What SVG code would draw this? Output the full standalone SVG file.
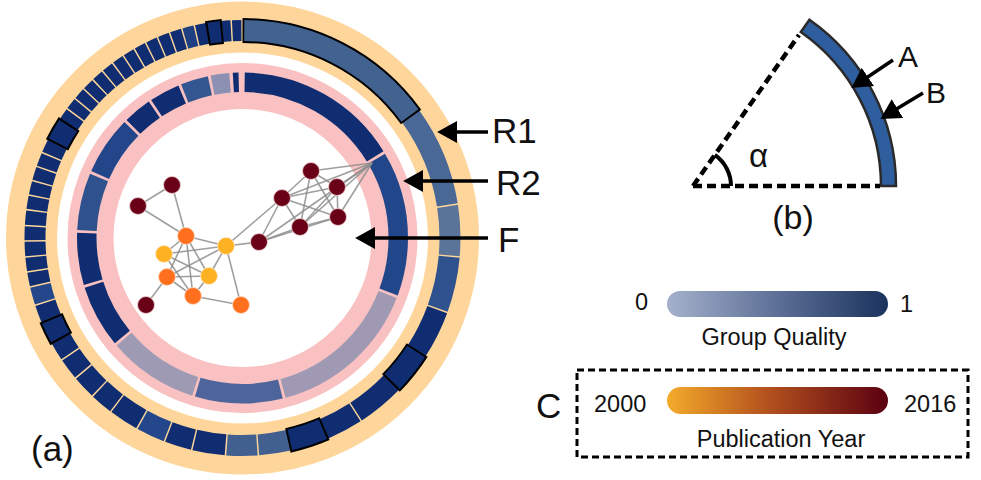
<svg xmlns="http://www.w3.org/2000/svg" width="981" height="480" viewBox="0 0 981 480">
<defs>
<style>
.r1{fill:none;stroke-width:21}
.r2{fill:none;stroke-width:19.5}
.bd{fill:none;stroke:#000;stroke-width:25}
.nv{stroke:#0F2D70}
.e{stroke:#8e8e8e;stroke-width:1.6;stroke-opacity:0.85;fill:none}
.dr{fill:#6A0018;stroke:#f3d6d6;stroke-width:0.8}
.or{fill:#FF6F1E;stroke:#fbe0cc;stroke-width:0.8}
.ye{fill:#FDB224;stroke:#fdebc6;stroke-width:0.8}
.t{font-family:"Liberation Sans",Arial,Helvetica,sans-serif;fill:#111}
.ar{stroke:#000;stroke-width:3.5;fill:none}
.dash{stroke:#000;stroke-width:4.5;stroke-dasharray:9 5;fill:none}
</style>
<marker id="ah" markerUnits="userSpaceOnUse" markerWidth="20" markerHeight="22" viewBox="0 0 19 21" refX="1" refY="10.5" orient="auto">
<path d="M0,0 L19,10.5 L0,21 z" fill="#000"/>
</marker>
<linearGradient id="gq" x1="0" y1="0" x2="1" y2="0">
<stop offset="0" stop-color="#A5B1CC"/>
<stop offset="0.5" stop-color="#5C6F96"/>
<stop offset="1" stop-color="#1A335D"/>
</linearGradient>
<linearGradient id="py" x1="0" y1="0" x2="1" y2="0">
<stop offset="0" stop-color="#F4AB2A"/>
<stop offset="0.45" stop-color="#B4521E"/>
<stop offset="1" stop-color="#5A0011"/>
</linearGradient>
</defs>
<rect width="981" height="480" fill="#fff"/>

<g id="outer-ring">
<circle cx="242.5" cy="238" r="211" fill="none" stroke="#FED69B" stroke-width="51"/>
</g>

<g id="ring-R1" transform="rotate(-90 242.5 238)">
<g fill="none">
<circle class="r1" stroke="#4A6896" cx="242.5" cy="238" r="207.5" pathLength="360" stroke-dasharray="26.6 400" stroke-dashoffset="-54.2"/>
<circle class="r1" stroke="#5A7399" cx="242.5" cy="238" r="207.5" pathLength="360" stroke-dasharray="13.6 400" stroke-dashoffset="-81.2"/>
<circle class="r1" stroke="#2F528F" cx="242.5" cy="238" r="207.5" pathLength="360" stroke-dasharray="14.6 400" stroke-dashoffset="-95.2"/>
<circle class="r1 nv" cx="242.5" cy="238" r="207.5" pathLength="360" stroke-dasharray="12.6 400" stroke-dashoffset="-110.2"/>
<circle class="r1 nv" cx="242.5" cy="238" r="207.5" pathLength="360" stroke-dasharray="12.6 400" stroke-dashoffset="-134.2"/>
<circle class="r1 nv" cx="242.5" cy="238" r="207.5" pathLength="360" stroke-dasharray="9.6 400" stroke-dashoffset="-147.2"/>
<circle class="r1" stroke="#416090" cx="242.5" cy="238" r="207.5" pathLength="360" stroke-dasharray="8.4 400" stroke-dashoffset="-167.2"/>
<circle class="r1" stroke="#416090" cx="242.5" cy="238" r="207.5" pathLength="360" stroke-dasharray="8.3 400" stroke-dashoffset="-176"/>
<circle class="r1 nv" cx="242.5" cy="238" r="207.5" pathLength="360" stroke-dasharray="8.6 400" stroke-dashoffset="-184.7"/>
<circle class="r1 nv" cx="242.5" cy="238" r="207.5" pathLength="360" stroke-dasharray="7.1 400" stroke-dashoffset="-193.7"/>
<circle class="r1" stroke="#23478A" cx="242.5" cy="238" r="207.5" pathLength="360" stroke-dasharray="7.6 400" stroke-dashoffset="-201.2"/>
<circle class="r1 nv" cx="242.5" cy="238" r="207.5" pathLength="360" stroke-dasharray="7.8 400" stroke-dashoffset="-209.2"/>
<circle class="r1 nv" cx="242.5" cy="238" r="207.5" pathLength="360" stroke-dasharray="5.9 400" stroke-dashoffset="-217.4"/>
<circle class="r1 nv" cx="242.5" cy="238" r="207.5" pathLength="360" stroke-dasharray="6.1 400" stroke-dashoffset="-223.7"/>
<circle class="r1 nv" cx="242.5" cy="238" r="207.5" pathLength="360" stroke-dasharray="5.6 400" stroke-dashoffset="-230.2"/>
<circle class="r1 nv" cx="242.5" cy="238" r="207.5" pathLength="360" stroke-dasharray="4.8 400" stroke-dashoffset="-236.2"/>
<circle class="r1 nv" cx="242.5" cy="238" r="207.5" pathLength="360" stroke-dasharray="4.6 400" stroke-dashoffset="-247.2"/>
<circle class="r1" stroke="#23478A" cx="242.5" cy="238" r="207.5" pathLength="360" stroke-dasharray="4.6 400" stroke-dashoffset="-252.2"/>
<circle class="r1 nv" cx="242.5" cy="238" r="207.5" pathLength="360" stroke-dasharray="3.6 400" stroke-dashoffset="-257.2"/>
<circle class="r1 nv" cx="242.5" cy="238" r="207.5" pathLength="360" stroke-dasharray="3.6 400" stroke-dashoffset="-261.2"/>
<circle class="r1 nv" cx="242.5" cy="238" r="207.5" pathLength="360" stroke-dasharray="3.8 400" stroke-dashoffset="-265.2"/>
<circle class="r1 nv" cx="242.5" cy="238" r="207.5" pathLength="360" stroke-dasharray="3.7 400" stroke-dashoffset="-269.4"/>
<circle class="r1 nv" cx="242.5" cy="238" r="207.5" pathLength="360" stroke-dasharray="3.8 400" stroke-dashoffset="-273.5"/>
<circle class="r1 nv" cx="242.5" cy="238" r="207.5" pathLength="360" stroke-dasharray="3.5 400" stroke-dashoffset="-277.7"/>
<circle class="r1 nv" cx="242.5" cy="238" r="207.5" pathLength="360" stroke-dasharray="3.5 400" stroke-dashoffset="-281.6"/>
<circle class="r1 nv" cx="242.5" cy="238" r="207.5" pathLength="360" stroke-dasharray="3.5 400" stroke-dashoffset="-285.5"/>
<circle class="r1 nv" cx="242.5" cy="238" r="207.5" pathLength="360" stroke-dasharray="3.5 400" stroke-dashoffset="-289.4"/>
<circle class="r1 nv" cx="242.5" cy="238" r="207.5" pathLength="360" stroke-dasharray="3.5 400" stroke-dashoffset="-293.3"/>
<circle class="r1 nv" cx="242.5" cy="238" r="207.5" pathLength="360" stroke-dasharray="3 400" stroke-dashoffset="-303.2"/>
<circle class="r1 nv" cx="242.5" cy="238" r="207.5" pathLength="360" stroke-dasharray="3 400" stroke-dashoffset="-306.6"/>
<circle class="r1 nv" cx="242.5" cy="238" r="207.5" pathLength="360" stroke-dasharray="3 400" stroke-dashoffset="-310"/>
<circle class="r1 nv" cx="242.5" cy="238" r="207.5" pathLength="360" stroke-dasharray="3 400" stroke-dashoffset="-313.4"/>
<circle class="r1 nv" cx="242.5" cy="238" r="207.5" pathLength="360" stroke-dasharray="3 400" stroke-dashoffset="-316.8"/>
<circle class="r1 nv" cx="242.5" cy="238" r="207.5" pathLength="360" stroke-dasharray="3 400" stroke-dashoffset="-320.2"/>
<circle class="r1 nv" cx="242.5" cy="238" r="207.5" pathLength="360" stroke-dasharray="3 400" stroke-dashoffset="-323.6"/>
<circle class="r1 nv" cx="242.5" cy="238" r="207.5" pathLength="360" stroke-dasharray="3 400" stroke-dashoffset="-327"/>
<circle class="r1 nv" cx="242.5" cy="238" r="207.5" pathLength="360" stroke-dasharray="3 400" stroke-dashoffset="-330.4"/>
<circle class="r1 nv" cx="242.5" cy="238" r="207.5" pathLength="360" stroke-dasharray="3 400" stroke-dashoffset="-333.8"/>
<circle class="r1 nv" cx="242.5" cy="238" r="207.5" pathLength="360" stroke-dasharray="3 400" stroke-dashoffset="-337.2"/>
<circle class="r1 nv" cx="242.5" cy="238" r="207.5" pathLength="360" stroke-dasharray="3 400" stroke-dashoffset="-340.6"/>
<circle class="r1" stroke="#1E3F82" cx="242.5" cy="238" r="207.5" pathLength="360" stroke-dasharray="3 400" stroke-dashoffset="-344"/>
<circle class="r1 nv" cx="242.5" cy="238" r="207.5" pathLength="360" stroke-dasharray="2.9 400" stroke-dashoffset="-347.4"/>
<circle class="r1 nv" cx="242.5" cy="238" r="207.5" pathLength="360" stroke-dasharray="2.4 400" stroke-dashoffset="-354.4"/>
<circle class="r1 nv" cx="242.5" cy="238" r="207.5" pathLength="360" stroke-dasharray="2.5 400" stroke-dashoffset="-357.2"/>
</g>
<g id="r1-highlight-borders">
<circle class="bd" cx="242.5" cy="238" r="207.5" pathLength="360" stroke-dasharray="54.4 400" stroke-dashoffset="0.05"/>
<circle class="bd" cx="242.5" cy="238" r="207.5" pathLength="360" stroke-dasharray="11.7 400" stroke-dashoffset="-122.65"/>
<circle class="bd" cx="242.5" cy="238" r="207.5" pathLength="360" stroke-dasharray="10.7 400" stroke-dashoffset="-156.65"/>
<circle class="bd" cx="242.5" cy="238" r="207.5" pathLength="360" stroke-dasharray="6.5 400" stroke-dashoffset="-240.85"/>
<circle class="bd" cx="242.5" cy="238" r="207.5" pathLength="360" stroke-dasharray="6.7 400" stroke-dashoffset="-296.65"/>
<circle class="bd" cx="242.5" cy="238" r="207.5" pathLength="360" stroke-dasharray="4.4 400" stroke-dashoffset="-350.15"/>
</g>
<g id="r1-highlight-fills">
<circle class="r1" stroke="#42628F" cx="242.5" cy="238" r="207.5" pathLength="360" stroke-dasharray="53.3 400" stroke-dashoffset="-0.5"/>
<circle class="r1 nv" cx="242.5" cy="238" r="207.5" pathLength="360" stroke-dasharray="10.6 400" stroke-dashoffset="-123.2"/>
<circle class="r1 nv" cx="242.5" cy="238" r="207.5" pathLength="360" stroke-dasharray="9.6 400" stroke-dashoffset="-157.2"/>
<circle class="r1 nv" cx="242.5" cy="238" r="207.5" pathLength="360" stroke-dasharray="5.4 400" stroke-dashoffset="-241.4"/>
<circle class="r1 nv" cx="242.5" cy="238" r="207.5" pathLength="360" stroke-dasharray="5.6 400" stroke-dashoffset="-297.2"/>
<circle class="r1 nv" cx="242.5" cy="238" r="207.5" pathLength="360" stroke-dasharray="3.3 400" stroke-dashoffset="-350.7"/>
</g>
</g>

<g id="pink-ring">
<circle cx="242.5" cy="238" r="152" fill="none" stroke="#F9C1C1" stroke-width="46"/>
</g>

<g id="ring-R2" transform="rotate(-90 242.5 238)">
<circle class="r2 nv" cx="242.5" cy="238" r="155.75" pathLength="360" stroke-dasharray="57.6 400" stroke-dashoffset="-0.8"/>
<circle class="r2" stroke="#22468A" cx="242.5" cy="238" r="155.75" pathLength="360" stroke-dasharray="50.9 400" stroke-dashoffset="-59.4"/>
<circle class="r2" stroke="#9F99B3" cx="242.5" cy="238" r="155.75" pathLength="360" stroke-dasharray="53.6 400" stroke-dashoffset="-111.3"/>
<circle class="r2" stroke="#4D659B" cx="242.5" cy="238" r="155.75" pathLength="360" stroke-dasharray="30.8 400" stroke-dashoffset="-165.9"/>
<circle class="r2" stroke="#9E9AB4" cx="242.5" cy="238" r="155.75" pathLength="360" stroke-dasharray="31.8 400" stroke-dashoffset="-197.7"/>
<circle class="r2 nv" cx="242.5" cy="238" r="155.75" pathLength="360" stroke-dasharray="22 400" stroke-dashoffset="-230.5"/>
<circle class="r2 nv" cx="242.5" cy="238" r="155.75" pathLength="360" stroke-dasharray="18.3 400" stroke-dashoffset="-253.5"/>
<circle class="r2" stroke="#2F518E" cx="242.5" cy="238" r="155.75" pathLength="360" stroke-dasharray="20.1 400" stroke-dashoffset="-272.8"/>
<circle class="r2" stroke="#23468A" cx="242.5" cy="238" r="155.75" pathLength="360" stroke-dasharray="20.6 400" stroke-dashoffset="-293.9"/>
<circle class="r2 nv" cx="242.5" cy="238" r="155.75" pathLength="360" stroke-dasharray="10 400" stroke-dashoffset="-315.5"/>
<circle class="r2 nv" cx="242.5" cy="238" r="155.75" pathLength="360" stroke-dasharray="10.7 400" stroke-dashoffset="-326.5"/>
<circle class="r2" stroke="#345690" cx="242.5" cy="238" r="155.75" pathLength="360" stroke-dasharray="9.7 400" stroke-dashoffset="-338.2"/>
<circle class="r2" stroke="#8C90B2" cx="242.5" cy="238" r="155.75" pathLength="360" stroke-dasharray="6.5 400" stroke-dashoffset="-348.9"/>
<circle class="r2 nv" cx="242.5" cy="238" r="155.75" pathLength="360" stroke-dasharray="2 400" stroke-dashoffset="-356.6"/>
</g>

<g id="panel-b-wedge">
<path d="M881,186 A188,188 0 0 0 800.83,32.0 L809.44,19.71 A203,203 0 0 1 896,186 Z" fill="#2F5E9E" stroke="#2a2a2a" stroke-width="2.5" stroke-linejoin="miter"/>
<path class="dash" d="M693,186 L880,186"/>
<path class="dash" d="M693,186 L799,35"/>
<path d="M731,186 A38,38 0 0 0 714.8,154.9" fill="none" stroke="#000" stroke-width="4"/>
</g>

<g id="connectors">
<g id="network-edges" class="e">
<line x1="172" y1="185" x2="138" y2="206"/>
<line x1="172" y1="185" x2="186" y2="236"/>
<line x1="138" y1="206" x2="186" y2="236"/>
<line x1="146" y1="305" x2="167" y2="277"/>
<line x1="186" y1="236" x2="164" y2="254"/>
<line x1="186" y1="236" x2="167" y2="277"/>
<line x1="186" y1="236" x2="193" y2="296"/>
<line x1="186" y1="236" x2="209" y2="276"/>
<line x1="186" y1="236" x2="226" y2="246"/>
<line x1="164" y1="254" x2="226" y2="246"/>
<line x1="164" y1="254" x2="209" y2="276"/>
<line x1="164" y1="254" x2="193" y2="296"/>
<line x1="167" y1="277" x2="209" y2="276"/>
<line x1="167" y1="277" x2="193" y2="296"/>
<line x1="167" y1="277" x2="226" y2="246"/>
<line x1="209" y1="276" x2="193" y2="296"/>
<line x1="209" y1="276" x2="226" y2="246"/>
<line x1="193" y1="296" x2="241" y2="305"/>
<line x1="226" y1="246" x2="241" y2="305"/>
<line x1="226" y1="246" x2="259" y2="242"/>
<line x1="226" y1="246" x2="282" y2="198"/>
<line x1="259" y1="242" x2="282" y2="198"/>
<line x1="259" y1="242" x2="300" y2="227"/>
<line x1="259" y1="242" x2="338" y2="217"/>
<line x1="282" y1="198" x2="311" y2="171"/>
<line x1="282" y1="198" x2="337" y2="187"/>
<line x1="282" y1="198" x2="300" y2="227"/>
<line x1="282" y1="198" x2="338" y2="217"/>
<line x1="311" y1="171" x2="337" y2="187"/>
<line x1="311" y1="171" x2="338" y2="217"/>
<line x1="311" y1="171" x2="300" y2="227"/>
<line x1="337" y1="187" x2="338" y2="217"/>
<line x1="337" y1="187" x2="300" y2="227"/>
<line x1="300" y1="227" x2="338" y2="217"/>
<line x1="311" y1="171" x2="372" y2="163"/>
<line x1="337" y1="187" x2="372" y2="163"/>
<line x1="282" y1="198" x2="372" y2="163"/>
<line x1="338" y1="217" x2="372" y2="163"/>
<line x1="300" y1="227" x2="372" y2="163"/>
<line x1="259" y1="242" x2="372" y2="163"/>
</g>
<g id="label-arrows" class="ar">
<path d="M488,132 L456,132" marker-end="url(#ah)"/>
<path d="M488,181 L422,181" marker-end="url(#ah)"/>
<path d="M488,238 L374,238" marker-end="url(#ah)"/>
<path d="M893,60 L867,77.5" marker-end="url(#ah)"/>
<path d="M923,93 L896.5,109.1" marker-end="url(#ah)"/>
</g>
</g>

<g id="network-nodes">
<g id="n1"><circle class="dr" cx="172" cy="185" r="8.5"/></g>
<g id="n2"><circle class="dr" cx="138" cy="206" r="8.5"/></g>
<g id="n3"><circle class="dr" cx="146" cy="305" r="8.5"/></g>
<g id="n4"><circle class="dr" cx="311" cy="171" r="8.5"/></g>
<g id="n5"><circle class="dr" cx="337" cy="187" r="8.5"/></g>
<g id="n6"><circle class="dr" cx="282" cy="198" r="8.5"/></g>
<g id="n7"><circle class="dr" cx="338" cy="217" r="8.5"/></g>
<g id="n8"><circle class="dr" cx="300" cy="227" r="8.5"/></g>
<g id="n9"><circle class="dr" cx="259" cy="242" r="8.5"/></g>
<g id="o1"><circle class="or" cx="186" cy="236" r="8.5"/></g>
<g id="o2"><circle class="or" cx="167" cy="277" r="8.5"/></g>
<g id="o3"><circle class="or" cx="193" cy="296" r="8.5"/></g>
<g id="o4"><circle class="or" cx="241" cy="305" r="8.5"/></g>
<g id="y1"><circle class="ye" cx="164" cy="254" r="8.5"/></g>
<g id="y2"><circle class="ye" cx="226" cy="246" r="8.5"/></g>
<g id="y3"><circle class="ye" cx="209" cy="276" r="8.5"/></g>
</g>

<g id="labels-a" class="t" font-size="35">
<text x="492" y="143">R1</text>
<text x="496" y="195">R2</text>
<text x="498" y="252">F</text>
<text x="31" y="461">(a)</text>
</g>

<g id="panel-b-labels" class="t">
<text x="749" y="167" font-size="33">α</text>
<text x="898" y="67" font-size="30">A</text>
<text x="926" y="103" font-size="30">B</text>
<text x="793" y="229" font-size="34" text-anchor="middle">(b)</text>
</g>

<g id="legend-quality">
<rect x="667" y="291" width="221" height="26" rx="13" fill="url(#gq)"/>
<text class="t" x="635" y="310" font-size="23.5">0</text>
<text class="t" x="900" y="312" font-size="23.5">1</text>
<text class="t" x="774" y="345" font-size="23.5" text-anchor="middle">Group Quality</text>
</g>

<g id="legend-year">
<rect x="577" y="370" width="391" height="87" fill="none" stroke="#000" stroke-width="3" stroke-dasharray="7 4"/>
<rect x="667" y="387" width="221" height="27" rx="13.5" fill="url(#py)"/>
<text class="t" x="594" y="412" font-size="23.5">2000</text>
<text class="t" x="904" y="412" font-size="23.5">2016</text>
<text class="t" x="781" y="447" font-size="23.5" text-anchor="middle">Publication Year</text>
<text class="t" x="536" y="418" font-size="35">C</text>
</g>
</svg>
